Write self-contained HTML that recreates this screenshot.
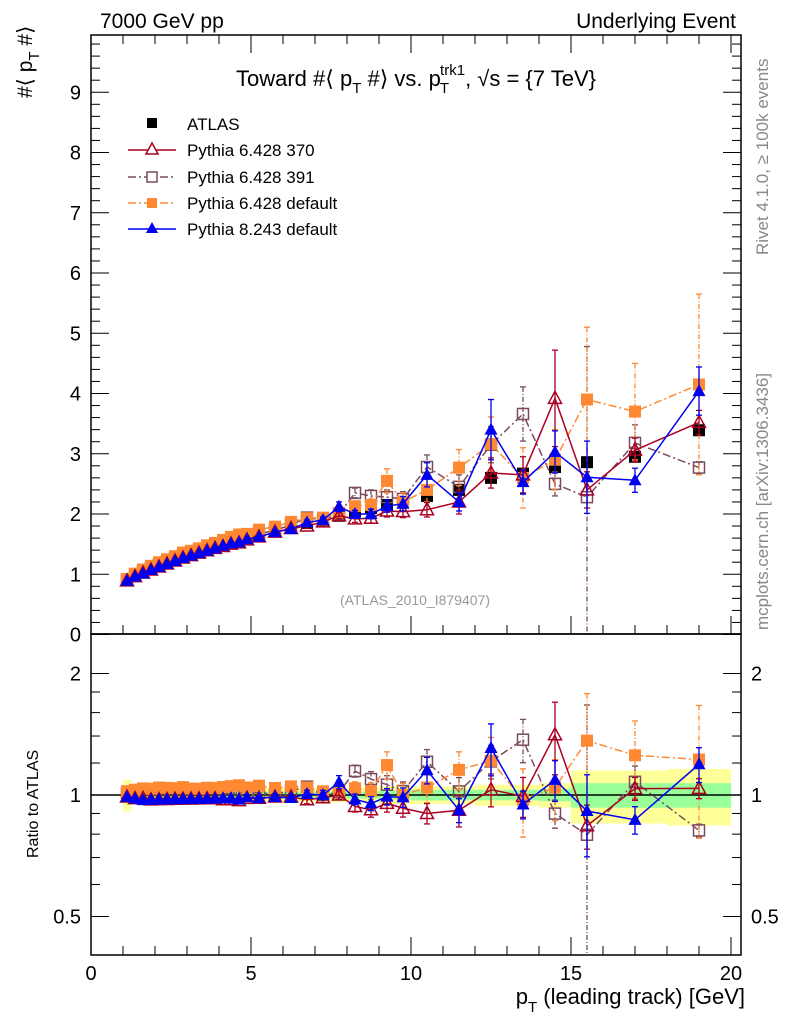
<!DOCTYPE html>
<html><head><meta charset="utf-8"><style>
html,body{margin:0;background:#fff;width:786px;height:1024px;overflow:hidden;position:relative}
svg{display:block;font-family:"Liberation Sans",sans-serif}
</style></head><body>
<svg id="c" width="786" height="1024" style="position:absolute;left:0;top:0"></svg>
<script>
const xs=[1.125,1.375,1.625,1.875,2.125,2.375,2.625,2.875,3.125,3.375,3.625,3.875,4.125,4.375,4.625,4.875,5.25,5.75,6.25,6.75,7.25,7.75,8.25,8.75,9.25,9.75,10.5,11.5,12.5,13.5,14.5,15.5,17,19];
const binLo=[1,1.25,1.5,1.75,2,2.25,2.5,2.75,3,3.25,3.5,3.75,4,4.25,4.5,4.75,5,5.5,6,6.5,7,7.5,8,8.5,9,9.5,10,11,12,13,14,15,16,18];
const binHi=[1.25,1.5,1.75,2,2.25,2.5,2.75,3,3.25,3.5,3.75,4,4.25,4.5,4.75,5,5.5,6,6.5,7,7.5,8,8.5,9,9.5,10,11,12,13,14,15,16,18,20];
const atlas=[0.90,0.98,1.04,1.10,1.15,1.20,1.25,1.30,1.34,1.38,1.42,1.46,1.50,1.54,1.57,1.60,1.65,1.72,1.78,1.85,1.90,1.97,2.05,2.10,2.15,2.20,2.30,2.40,2.60,2.67,2.78,2.86,2.95,3.39];
const greenHalf=[0.02,0.02,0.02,0.02,0.02,0.02,0.02,0.02,0.02,0.02,0.02,0.02,0.02,0.02,0.02,0.02,0.02,0.02,0.02,0.02,0.02,0.02,0.02,0.02,0.025,0.025,0.03,0.03,0.03,0.03,0.035,0.07,0.07,0.07];
const yellowHalf=[0.09,0.05,0.04,0.04,0.04,0.04,0.04,0.04,0.04,0.04,0.04,0.04,0.04,0.04,0.04,0.04,0.04,0.04,0.04,0.04,0.04,0.04,0.04,0.04,0.05,0.05,0.05,0.05,0.06,0.06,0.07,0.15,0.15,0.16];
const orange=[0.92,1.01,1.08,1.14,1.20,1.25,1.30,1.36,1.39,1.43,1.48,1.52,1.57,1.62,1.66,1.67,1.74,1.79,1.87,1.93,1.94,2.02,2.13,2.15,2.55,2.20,2.40,2.77,3.16,2.60,2.90,3.90,3.70,4.15];
const orangeErr=[0.01,0.01,0.01,0.01,0.01,0.01,0.01,0.01,0.01,0.01,0.01,0.01,0.02,0.02,0.02,0.02,0.02,0.03,0.04,0.04,0.05,0.06,0.08,0.1,0.2,0.15,0.2,0.3,0.45,0.5,0.5,1.2,0.8,1.5];
const red=[0.89,0.96,1.02,1.07,1.12,1.17,1.22,1.27,1.31,1.35,1.39,1.43,1.46,1.50,1.52,1.57,1.62,1.70,1.76,1.80,1.87,1.97,1.92,1.93,2.05,2.04,2.07,2.20,2.68,2.65,3.92,2.40,3.06,3.52];
const redErr=[0.01,0.01,0.01,0.01,0.01,0.01,0.01,0.01,0.01,0.01,0.01,0.01,0.02,0.02,0.02,0.02,0.02,0.03,0.03,0.04,0.05,0.05,0.06,0.08,0.1,0.1,0.12,0.2,0.25,0.3,0.8,0.3,0.2,0.2];
const purple=[0.91,0.99,1.05,1.10,1.16,1.21,1.26,1.31,1.35,1.40,1.43,1.48,1.52,1.55,1.59,1.62,1.67,1.73,1.82,1.94,1.90,2.00,2.35,2.30,2.28,2.25,2.78,2.45,3.15,3.66,2.50,2.28,3.18,2.77];
const purpleErr=[0.01,0.01,0.01,0.01,0.01,0.01,0.01,0.01,0.01,0.01,0.01,0.01,0.02,0.02,0.02,0.02,0.02,0.03,0.03,0.04,0.05,0.05,0.08,0.1,0.12,0.12,0.2,0.2,0.3,0.45,0.2,2.5,0.3,0.1];
const blue=[0.89,0.96,1.01,1.07,1.12,1.17,1.22,1.27,1.31,1.35,1.39,1.43,1.47,1.51,1.53,1.58,1.62,1.70,1.75,1.86,1.90,2.12,2.00,2.00,2.13,2.17,2.65,2.20,3.40,2.53,3.03,2.61,2.56,4.04];
const blueErr=[0.01,0.01,0.01,0.01,0.01,0.01,0.01,0.01,0.01,0.01,0.01,0.01,0.02,0.02,0.02,0.02,0.02,0.03,0.03,0.04,0.05,0.08,0.06,0.08,0.1,0.12,0.2,0.15,0.5,0.2,0.35,0.6,0.2,0.4];
const xTicks=[0,5,10,15,20];
const yTicks=[0,1,2,3,4,5,6,7,8,9];
const rTicks=[0.5,1,2];

const NS="http://www.w3.org/2000/svg";
const svg=document.getElementById('c');
const L=91,R=741,T=35,MB=634,RB=955;
const X=v=>L+v*32;
const Y=v=>634.5-v*60.25;
const RY=v=>795-Math.log2(v)*121.5;
function mk(tag,attrs,parent){const e=document.createElementNS(NS,tag);for(const k in attrs)e.setAttribute(k,attrs[k]);(parent||svg).appendChild(e);return e;}
function txt(s,x,y,size,anchor,fill,parent){const e=mk('text',{x:x,y:y,'font-size':size,'text-anchor':anchor||'start',fill:fill||'#000'},parent);e.textContent=s;return e;}

const defs=mk('defs',{});
const c1=mk('clipPath',{id:'cm'},defs);mk('rect',{x:L,y:T,width:R-L,height:MB-T},c1);
const c2=mk('clipPath',{id:'cr'},defs);mk('rect',{x:L,y:MB,width:R-L,height:RB-MB},c2);

const gR=mk('g',{'clip-path':'url(#cr)'});


for(let i=0;i<xs.length;i++){
  const r=mk('rect',{x:X(binLo[i]),y:RY(1+yellowHalf[i]),width:X(binHi[i])-X(binLo[i]),height:RY(1-yellowHalf[i])-RY(1+yellowHalf[i]),fill:'#ffff99'},gR);
  
  
}
for(let i=0;i<xs.length;i++){
  const r=mk('rect',{x:X(binLo[i]),y:RY(1+greenHalf[i]),width:X(binHi[i])-X(binLo[i]),height:RY(1-greenHalf[i])-RY(1+greenHalf[i]),fill:'#99ff99'},gR);
  
  
}
mk('line',{x1:L,x2:R,y1:RY(1),y2:RY(1),stroke:'#000','stroke-width':1.5},gR);

const gM=mk('g',{'clip-path':'url(#cm)'});



function marker(type,x,y,col,g){
  if(type==='sq') mk('rect',{x:x-6,y:y-6,width:12,height:12,fill:col},g);
  else if(type==='osq') mk('rect',{x:x-5.5,y:y-5.5,width:11,height:11,fill:'none',stroke:col,'stroke-width':1.5},g);
  else if(type==='tri') mk('polygon',{points:`${x},${y-7} ${x-6.5},${y+5} ${x+6.5},${y+5}`,fill:col},g);
  else if(type==='otri') mk('polygon',{points:`${x},${y-7} ${x-6.5},${y+5} ${x+6.5},${y+5}`,fill:'none',stroke:col,'stroke-width':1.5},g);
}
const series=[
 {name:'pythia-6428-391',vals:purple,err:purpleErr,col:'#7a4a5e',m:'osq',dash:'8,3,2,3'},
 {name:'pythia-6428-default',vals:orange,err:orangeErr,col:'#ff8833',m:'sq',dash:'8,3,2,3'},
 {name:'pythia-6428-370',vals:red,err:redErr,col:'#aa0022',m:'otri',dash:''},
 {name:'pythia-8243-default',vals:blue,err:blueErr,col:'#0000ee',m:'tri',dash:''}
];
function drawSeries(s,g,fy,ratio){
  const gs=mk('g',{},g);
  
  
  const pts=s.vals.map((v,i)=>X(xs[i])+','+fy(ratio?v/atlas[i]:v)).join(' ');
  mk('polyline',{points:pts,fill:'none',stroke:s.col,'stroke-width':1.5,'stroke-dasharray':s.dash},gs);
  s.vals.forEach((v,i)=>{
    const val=ratio?v/atlas[i]:v, e=ratio?s.err[i]/atlas[i]:s.err[i];
    const x=X(xs[i]),hi=fy(val+e),lo=fy(Math.max(val-e,0.01));
    mk('line',{x1:x,x2:x,y1:hi,y2:lo,stroke:s.col,'stroke-width':1.3,'stroke-dasharray':s.dash?'5,2,1,2':''},gs);
    mk('line',{x1:x-3,x2:x+3,y1:hi,y2:hi,stroke:s.col,'stroke-width':1.3},gs);
    mk('line',{x1:x-3,x2:x+3,y1:lo,y2:lo,stroke:s.col,'stroke-width':1.3},gs);
    marker(s.m,x,fy(val),s.col,gs);
  });
}
const ga=mk('g',{},gM);


atlas.forEach((v,i)=>marker('sq',X(xs[i]),Y(v),'#000',ga));
series.forEach(s=>drawSeries(s,gM,Y,false));
series.forEach(s=>drawSeries(s,gR,RY,true));

mk('rect',{x:L,y:T,width:R-L,height:MB-T,fill:'none',stroke:'#000','stroke-width':1.5});
mk('rect',{x:L,y:MB,width:R-L,height:RB-MB,fill:'none',stroke:'#000','stroke-width':1.5});

for(let v=0;v<=9.9;v+=0.2){const y=Y(v),maj=Math.abs(v-Math.round(v))<1e-6,l=maj?18:9;
  mk('line',{x1:L,x2:L+l,y1:y,y2:y,stroke:'#000'});mk('line',{x1:R,x2:R-l,y1:y,y2:y,stroke:'#000'});}
yTicks.forEach(v=>{const t=txt(String(v),L-10,Y(v)+7,20,'end');});
for(let v=0;v<=20;v++){const maj=v%5===0,l=maj?18:9;
  mk('line',{x1:X(v),x2:X(v),y1:RB,y2:RB-l,stroke:'#000'});
  mk('line',{x1:X(v),x2:X(v),y1:MB,y2:MB-l,stroke:'#000'});
  mk('line',{x1:X(v),x2:X(v),y1:T,y2:T+l,stroke:'#000'});
}
xTicks.forEach(v=>{const t=txt(String(v),X(v),980,20,'middle');});
[0.4,0.5,0.6,0.7,0.8,0.9,1,1.2,1.4,1.6,1.8,2,2.5].forEach(v=>{const y=RY(v);if(y<MB||y>RB)return;const maj=rTicks.includes(v),l=maj?18:9;
  mk('line',{x1:L,x2:L+l,y1:y,y2:y,stroke:'#000'});mk('line',{x1:R,x2:R-l,y1:y,y2:y,stroke:'#000'});});
rTicks.forEach(v=>{let t=txt(String(v),L-10,RY(v)+7,20,'end');
  t=txt(String(v),R+10,RY(v)+7,20,'start');});
</script>
<svg width="786" height="1024" style="position:absolute;left:0;top:0">
<text x="100" y="28" font-size="21">7000 GeV pp</text>
<text x="736" y="28" font-size="21" text-anchor="end">Underlying Event</text>
<text x="416" y="86" font-size="22" text-anchor="middle">Toward #⟨ p<tspan font-size="15" dy="7">T</tspan><tspan dy="-7"> #⟩ vs. p</tspan><tspan font-size="15" dy="7" dx="-1">T</tspan><tspan font-size="15" dy="-18" dx="-9">trk1</tspan><tspan dy="11">, √s = {7 TeV}</tspan></text>
<text transform="translate(32,98) rotate(-90)" font-size="21">#⟨ p<tspan font-size="15" dy="7">T</tspan><tspan dy="-7"> #⟩</tspan></text>
<text transform="translate(38,858) rotate(-90)" font-size="16">Ratio to ATLAS</text>
<text x="745" y="1004" font-size="22" text-anchor="end">p<tspan font-size="15" dy="8">T</tspan><tspan dy="-8"> (leading track) [GeV]</tspan></text>
<text transform="translate(768,255) rotate(-90)" font-size="17" fill="#888">Rivet 4.1.0, ≥ 100k events</text>
<text transform="translate(768,630) rotate(-90)" font-size="17" fill="#888">mcplots.cern.ch [arXiv:1306.3436]</text>
<text x="415" y="605" font-size="14" fill="#999" text-anchor="middle">(ATLAS_2010_I879407)</text>
<g font-size="17">
 <rect x="147" y="118" width="10" height="10" fill="#000"/>
 <text x="187" y="130">ATLAS</text>
 <line x1="128" x2="176" y1="150" y2="150" stroke="#aa0022" stroke-width="1.5"/>
 <polygon points="152,143 146,154 158,154" fill="#fff" stroke="#aa0022" stroke-width="1.5"/>
 <text x="187" y="156">Pythia 6.428 370</text>
 <line x1="128" x2="176" y1="177" y2="177" stroke="#7a4a5e" stroke-width="1.5" stroke-dasharray="8,3,2,3"/>
 <rect x="147" y="172" width="10" height="10" fill="#fff" stroke="#7a4a5e" stroke-width="1.5"/>
 <text x="187" y="183">Pythia 6.428 391</text>
 <line x1="128" x2="176" y1="203" y2="203" stroke="#ff8833" stroke-width="1.5" stroke-dasharray="8,3,2,3"/>
 <rect x="147" y="198" width="10" height="10" fill="#ff8833"/>
 <text x="187" y="209">Pythia 6.428 default</text>
 <line x1="128" x2="176" y1="229" y2="229" stroke="#0000ee" stroke-width="1.5"/>
 <polygon points="152,222 146,233 158,233" fill="#0000ee"/>
 <text x="187" y="235">Pythia 8.243 default</text>
</g>
</svg>
</body></html>
